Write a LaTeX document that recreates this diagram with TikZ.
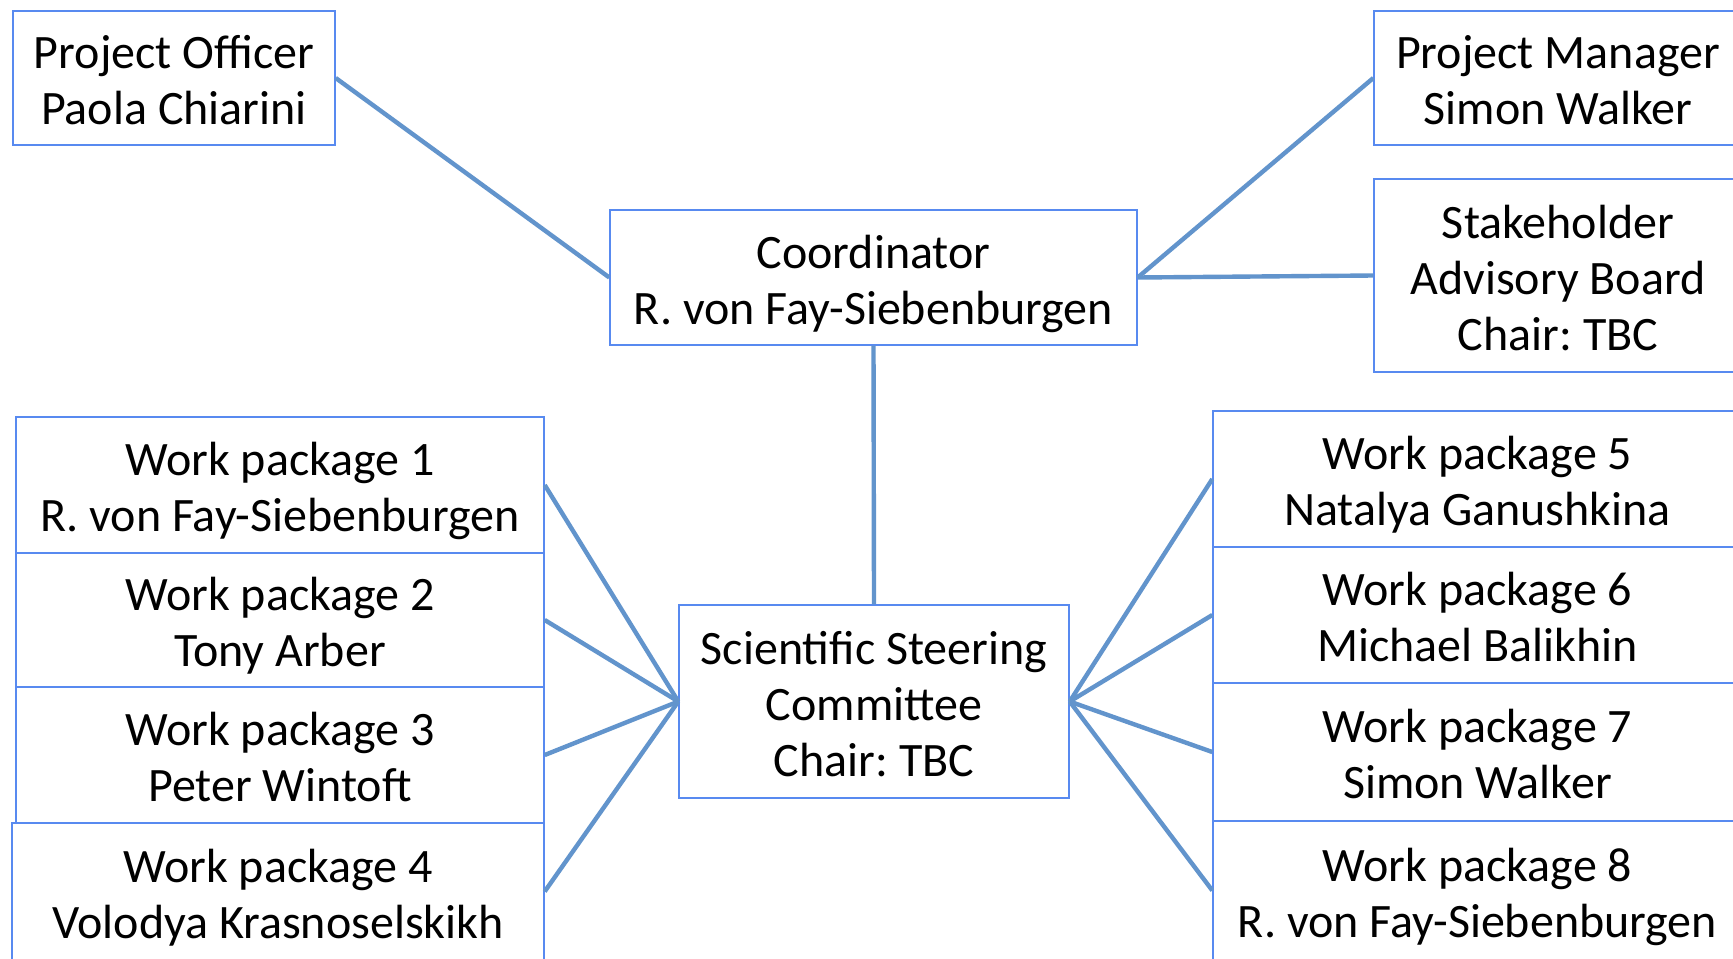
\documentclass[tikz,border=0pt]{standalone}
\usepackage{fontspec}
\setmainfont{Carlito}
\frenchspacing
\definecolor{boxblue}{RGB}{88,138,240}
\definecolor{linkblue}{RGB}{98,148,204}
\newcommand\mytop{\rule{0pt}{24.5pt}}
\newcommand\mybot{\rule[-6pt]{0pt}{6pt}}
\tikzset{
  orgbox/.style={draw=boxblue, line width=0.7pt, rectangle, inner sep=0pt, align=center,
    font=\fontsize{24}{28}\selectfont\frenchspacing, text=black},
  link/.style={draw=linkblue, line width=2.2pt},
}
\begin{document}
\begin{tikzpicture}[x=0.5pt,y=-0.5pt]
\clip (0,0) rectangle (1733,958);
\fill[white] (0,0) rectangle (1733,958);
\node[orgbox, minimum width=161pt, minimum height=67pt] (po) at (174,78) {\mytop Project Officer\\Paola Chiarini\mybot};
\node[orgbox, minimum width=184pt, minimum height=67pt] (pm) at (1558,78) {\mytop Project Manager\\Simon Walker\mybot};
\node[orgbox, minimum width=184pt, minimum height=96.5pt] (sab) at (1558,275.5) {\mytop Stakeholder\\Advisory Board\\Chair: TBC\mybot};
\node[orgbox, minimum width=263.5pt, minimum height=67.5pt] (coord) at (873.5,277.5) {\mytop Coordinator\\R. von Fay-Siebenburgen\mybot};
\node[orgbox, minimum width=195pt, minimum height=96.5pt] (ssc) at (874,701.5) {\mytop Scientific Steering\\Committee\\Chair: TBC\mybot};
\node[orgbox, minimum width=264pt, minimum height=68pt] (wp1) at (280,485) {\mytop Work package 1\\R. von Fay-Siebenburgen\mybot};
\node[orgbox, minimum width=264pt, minimum height=67pt] (wp2) at (280,620) {\mytop Work package 2\\Tony Arber\mybot};
\node[orgbox, minimum width=264pt, minimum height=68pt] (wp3) at (280,755) {\mytop Work package 3\\Peter Wintoft\mybot};
\node[orgbox, minimum width=266pt, minimum height=68.5pt] (wp4) at (278,891.5) {\mytop Work package 4\\Volodya Krasnoselskikh\mybot};
\node[orgbox, minimum width=264.5pt, minimum height=68pt] (wp5) at (1477.5,479) {\mytop Work package 5\\Natalya Ganushkina\mybot};
\node[orgbox, minimum width=264.5pt, minimum height=68pt] (wp6) at (1477.5,615) {\mytop Work package 6\\Michael Balikhin\mybot};
\node[orgbox, minimum width=264.5pt, minimum height=69pt] (wp7) at (1477.5,752) {\mytop Work package 7\\Simon Walker\mybot};
\node[orgbox, minimum width=264.5pt, minimum height=69.5pt] (wp8) at (1477.5,890.5) {\mytop Work package 8\\R. von Fay-Siebenburgen\mybot};
\draw[link] (po.east) -- (coord.west);
\draw[link] (coord.east) -- (pm.west);
\draw[link] (coord.east) -- (sab.west);
\draw[link] (coord.south) -- (ssc.north);
\foreach \w in {wp1,wp2,wp3,wp4} \draw[link] (\w.east) -- (ssc.west);
\foreach \w in {wp5,wp6,wp7,wp8} \draw[link] (\w.west) -- (ssc.east);
\end{tikzpicture}
\end{document}
